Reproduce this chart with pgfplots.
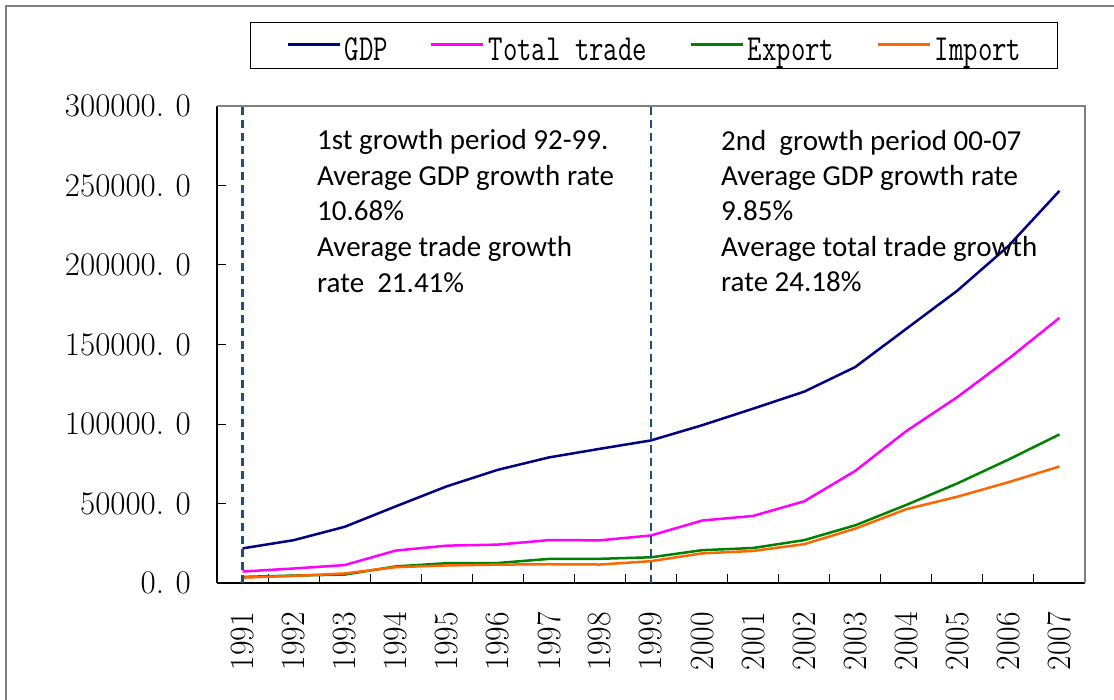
\documentclass[border=0pt]{standalone}
\usepackage{graphicx}
\usepackage{pgfplots}
\pgfplotsset{compat=1.18}
\usepackage{fontspec}
\newfontfamily\calib{Carlito}
\definecolor{cgdp}{HTML}{000080}
\definecolor{ctrade}{HTML}{FF00FF}
\definecolor{cexp}{HTML}{008000}
\definecolor{cimp}{HTML}{FF6600}
\definecolor{cdash}{HTML}{1F4E79}
\definecolor{cframe}{HTML}{808080}
\newcommand{\ytl}[1]{\scalebox{1.0}[1]{#1.\hspace{0.35em}0}}
\newcommand{\xtl}[1]{\scalebox{0.93}[1]{#1}}
\newcommand{\lgt}[1]{\raisebox{0pt}[31pt][0pt]{\scalebox{0.8}[1.05]{#1}}}
\begin{document}
\begin{tikzpicture}
\useasboundingbox (0pt,0pt) rectangle (1114pt,-700pt);
\draw[cframe, line width=1.5pt] (6pt,-700pt) -- (6pt,-6pt) -- (1114pt,-6pt);
\begin{axis}[
  at={(217pt,-583pt)}, anchor=south west,
  scale only axis, width=868pt, height=477pt,
  xmin=-0.5, xmax=16.5, ymin=0, ymax=300000,
  axis x line*=bottom, axis y line*=left,
  axis line style={-, black, line width=1.5pt},
  tick align=inside,
  major tick length=9.5pt,
  tick style={black, line width=1pt},
  xtick={-0.5,0.5,...,16.5},
  xticklabels={},
  extra x ticks={0,1,...,16},
  extra x tick labels={\xtl{1991},\xtl{1992},\xtl{1993},\xtl{1994},\xtl{1995},\xtl{1996},\xtl{1997},\xtl{1998},\xtl{1999},\xtl{2000},\xtl{2001},\xtl{2002},\xtl{2003},\xtl{2004},\xtl{2005},\xtl{2006},\xtl{2007}},
  extra x tick style={major tick length=0pt, xticklabel style={yshift=-29pt, rotate=90, anchor=east, inner sep=0pt, font=\fontsize{34}{40}\selectfont}},
  ytick={0,50000,...,300000},
  yticklabels={\ytl{0},\ytl{50000},\ytl{100000},\ytl{150000},\ytl{200000},\ytl{250000},\ytl{300000}},
  yticklabel style={inner sep=0pt, xshift=-26pt, anchor=east, font=\fontsize{33}{40}\selectfont},
  scaled y ticks=false,
  legend columns=4,
  legend style={at={(0.0380,1.1761)}, anchor=north west, draw=black, line width=0.8pt,
    inner xsep=36pt, inner ysep=7pt,
    font=\ttfamily\fontsize{35}{40}\selectfont,
    nodes={inner sep=0pt},
    /tikz/every odd column/.append style={column sep=4pt},
    /tikz/every even column/.append style={column sep=42pt}},
  legend image code/.code={\draw[#1, line width=2.5pt] (0pt,1pt) -- (52pt,1pt);},
  clip=false,
]
\addplot[cgdp, line width=2.5pt, line join=round] coordinates {
(0,21781.5) (1,26923.5) (2,35333.9) (3,48197.9) (4,60793.7) (5,71176.6) (6,78973.0) (7,84402.3) (8,89677.1) (9,99214.6) (10,109655.2) (11,120332.7) (12,135822.8) (13,159878.3) (14,183867.9) (15,211923.5) (16,246619.0)};
\addlegendentry{\lgt{GDP}}
\addplot[ctrade, line width=2.5pt, line join=round] coordinates {
(0,7225.8) (1,9119.6) (2,11271.0) (3,20381.9) (4,23499.9) (5,24133.8) (6,26967.2) (7,26849.7) (8,29896.2) (9,39273.2) (10,42183.6) (11,51378.2) (12,70483.5) (13,95539.1) (14,116921.8) (15,140974.0) (16,166740.0)};
\addlegendentry{\lgt{Total trade}}
\addplot[cexp, line width=2.5pt, line join=round] coordinates {
(0,3827.1) (1,4676.3) (2,5284.8) (3,10421.8) (4,12451.8) (5,12576.4) (6,15160.7) (7,15223.6) (8,16159.8) (9,20634.4) (10,22024.4) (11,26947.9) (12,36287.9) (13,49103.3) (14,62648.1) (15,77594.6) (16,93455.6)};
\addlegendentry{\lgt{Export}}
\addplot[cimp, line width=2.5pt, line join=round] coordinates {
(0,3398.7) (1,4443.3) (2,5986.2) (3,9960.1) (4,11048.1) (5,11557.4) (6,11806.5) (7,11626.1) (8,13736.4) (9,18638.8) (10,20159.2) (11,24430.3) (12,34195.6) (13,46435.8) (14,54273.7) (15,63376.9) (16,73284.6)};
\addlegendentry{\lgt{Import}}
\addplot[forget plot, cdash, line width=2.5pt, dash pattern=on 8pt off 5pt] coordinates {(0,0) (0,300000)};
\addplot[forget plot, cdash, line width=2.5pt, dash pattern=on 8pt off 5pt] coordinates {(8,0) (8,300000)};
\draw[cframe, line width=1.5pt] (rel axis cs:0,1) -- (rel axis cs:1,1) -- (rel axis cs:1,0);
\end{axis}
\begin{scope}[every node/.style={anchor=base west, inner sep=0pt, font=\calib\fontsize{29}{34}\selectfont}]
\node at (317pt,-150pt) {1st growth period 92-99.};
\node at (317pt,-186pt) {Average GDP growth rate};
\node at (317pt,-221pt) {10.68\%};
\node at (317pt,-257pt) {Average trade growth};
\node at (317pt,-293pt) {rate\ \ 21.41\%};
\node at (721pt,-151pt) {2nd\ \ growth period 00-07};
\node at (721pt,-186pt) {Average GDP growth rate};
\node at (721pt,-221pt) {9.85\%};
\node at (721pt,-257pt) {Average total trade growth};
\node at (721pt,-292pt) {rate 24.18\%};
\end{scope}
\end{tikzpicture}
\end{document}
